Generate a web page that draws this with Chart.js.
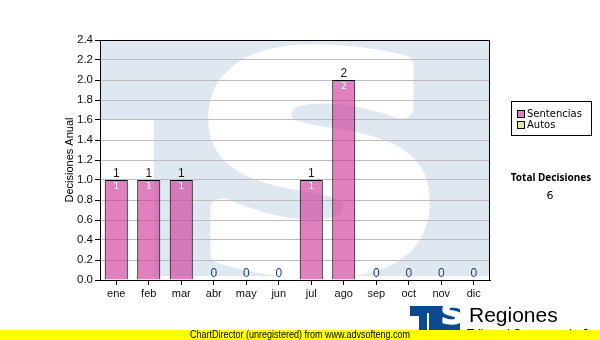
<!DOCTYPE html>
<html>
<head>
<meta charset="utf-8">
<script src="https://cdn.jsdelivr.net/npm/chart.js@4.4.1/dist/chart.umd.min.js"></script>
<style>
  html, body { margin: 0; padding: 0; background: #fff; }
  #wrap { width: 600px; height: 340px; position: relative; }
</style>
</head>
<body>
<div id="wrap"><canvas id="c" width="600" height="340"></canvas></div>
<script>
const categories = ['ene','feb','mar','abr','may','jun','jul','ago','sep','oct','nov','dic'];
const sentencias = [1,1,1,0,0,0,1,2,0,0,0,0];
const autos = [0,0,0,0,0,0,0,0,0,0,0,0];
const seriesNames = ['Sentencias','Autos'];
const yTicks = [0,0.2,0.4,0.6,0.8,1.0,1.2,1.4,1.6,1.8,2.0,2.2,2.4];
const totalLabel = 'Total Decisiones';
const axisTitle = 'Decisiones Anual';

const FONT = '"Liberation Sans", Arial, sans-serif';
const LFONT = '"DejaVu Sans", Verdana, sans-serif';

function drawFittedS(ctx, font, bx, by, bw, bh, strokeW, color) {
  ctx.save();
  ctx.font = font;
  ctx.fillStyle = color;
  const m = ctx.measureText('S');
  const gl = -m.actualBoundingBoxLeft; // glyph left relative to origin
  const gw = m.actualBoundingBoxRight - gl;
  const w = gw + strokeW;
  const h = m.actualBoundingBoxAscent + m.actualBoundingBoxDescent + strokeW;
  ctx.translate(bx, by);
  ctx.scale(bw / w, bh / h);
  ctx.textBaseline = 'alphabetic';
  ctx.textAlign = 'left';
  const ox = -gl + strokeW / 2, oy = m.actualBoundingBoxAscent + strokeW / 2;
  ctx.fillText('S', ox, oy);
  if (strokeW > 0) {
    ctx.lineWidth = strokeW; ctx.lineJoin = 'round'; ctx.strokeStyle = color;
    ctx.strokeText('S', ox, oy);
  }
  ctx.restore();
}

const watermark = {
  id: 'watermark',
  beforeDraw(chart) {
    const ctx = chart.ctx, a = chart.chartArea;
    ctx.save();
    ctx.beginPath(); ctx.rect(a.left, a.top, a.right - a.left, a.bottom - a.top); ctx.clip();
    ctx.fillStyle = '#dfe8f1';
    ctx.fillRect(a.left, a.top, a.right - a.left, 236);
    ctx.fillStyle = '#ffffff';
    ctx.fillRect(a.left, a.top + 80, 54, a.bottom - a.top);
    drawFittedS(ctx, 'bold 300px "DejaVu Sans"', a.left + 105, a.top + 2, 228, 237, 22, '#ffffff');
    ctx.restore();
  }
};

const extras = {
  id: 'extras',
  afterDatasetsDraw(chart) {
    const ctx = chart.ctx, a = chart.chartArea;
    const y = chart.scales.y;
    ctx.save();
    ctx.strokeStyle = '#000'; ctx.lineWidth = 1;
    ctx.strokeRect(a.left + 0.5, a.top + 0.5, a.right - a.left - 1, a.bottom - a.top);
    const meta0 = chart.getDatasetMeta(0);
    ctx.textAlign = 'center';
    categories.forEach((c, i) => {
      const total = sentencias[i] + autos[i];
      const x = meta0.data[i].x;
      const top = y.getPixelForValue(total);
      ctx.font = '12px ' + FONT;
      ctx.fillStyle = total === 0 ? '#1d3f70' : '#1a1a1a';
      ctx.textBaseline = 'bottom';
      ctx.fillText(String(total), x, top);
      if (sentencias[i] > 0) {
        ctx.font = '9px ' + LFONT;
        ctx.fillStyle = '#ffffff';
        ctx.textBaseline = 'middle';
        ctx.fillText(String(sentencias[i]), x, y.getPixelForValue(sentencias[i]) + 7);
      }
    });
    ctx.restore();
  },
  afterDraw(chart) {
    const ctx = chart.ctx;
    const ds = chart.data.datasets;
    ctx.save();
    // legend box
    ctx.strokeStyle = '#000'; ctx.lineWidth = 1;
    ctx.strokeRect(511.5, 101.5, 80, 34);
    ctx.font = '10px ' + LFONT;
    ctx.textBaseline = 'middle'; ctx.textAlign = 'left';
    ds.forEach((d, i) => {
      const yy = 114 + i * 11;
      ctx.fillStyle = d.legendColor;
      ctx.fillRect(517, yy - 4, 7, 7);
      ctx.strokeStyle = '#000';
      ctx.strokeRect(517.5, yy - 3.5, 7, 7);
      ctx.fillStyle = '#000';
      ctx.fillText(d.label, 527, yy);
    });
    // total
    const total = sentencias.reduce((s, v) => s + v, 0) + autos.reduce((s, v) => s + v, 0);
    ctx.textAlign = 'center';
    ctx.font = 'bold 10px "Noto Sans", ' + FONT;
    ctx.fillText(totalLabel, 551, 178);
    ctx.font = '11px ' + LFONT;
    ctx.fillText(String(total), 550, 196);
    // bottom logo
    ctx.fillStyle = '#0b4a8c';
    ctx.fillRect(410, 306, 50, 26);
    ctx.fillStyle = '#fff';
    ctx.fillRect(410, 316, 9, 20);
    ctx.fillRect(427, 313, 2, 20);
    drawFittedS(ctx, 'bold 40px "DejaVu Sans"', 430, 309, 21, 24, 2, '#ffffff');
    ctx.fillStyle = '#000';
    ctx.textAlign = 'left'; ctx.textBaseline = 'alphabetic';
    ctx.font = '21px ' + FONT;
    ctx.fillText('Regiones', 469, 322);
    ctx.font = '12px ' + FONT;
    ctx.fillText('Tribunal Supremo de Justicia', 467, 338);
    // yellow band
    ctx.fillStyle = '#ffff00';
    ctx.fillRect(0, 330, 600, 10);
    ctx.fillStyle = '#000';
    ctx.font = '10px ' + FONT;
    ctx.textBaseline = 'middle';
    const wm = 'ChartDirector (unregistered) from www.advsofteng.com';
    const mw = ctx.measureText(wm).width;
    ctx.translate(190, 335.5);
    ctx.scale(220 / mw, 1);
    ctx.fillText(wm, 0, 0);
    ctx.restore();
  }
};

new Chart(document.getElementById('c'), {
  type: 'bar',
  data: {
    labels: categories,
    datasets: [
      { label: seriesNames[0], data: sentencias, backgroundColor: 'rgba(208,63,155,0.66)', legendColor: '#e07fbd',
        borderColor: '#000', borderWidth: 1, borderSkipped: 'bottom' },
      { label: seriesNames[1], data: autos, backgroundColor: 'rgba(200,230,140,0.8)', legendColor: '#d8eca0',
        borderColor: '#000', borderWidth: 0 }
    ]
  },
  options: {
    responsive: false,
    animation: false,
    events: [],
    layout: { padding: { left: 60, top: 40, right: 110, bottom: 0 } },
    plugins: { legend: { display: false }, tooltip: { enabled: false } },
    datasets: { bar: { barPercentage: 0.71, categoryPercentage: 1 } },
    scales: {
      x: {
        stacked: true,
        afterFit(s) { s.height = 60; },
        grid: { drawOnChartArea: false, tickLength: 5, tickColor: '#000', offset: false },
        border: { color: '#000' },
        ticks: { color: '#111', font: { family: FONT, size: 11 }, padding: 2, maxRotation: 0 }
      },
      y: {
        stacked: true,
        min: 0, max: 2.4,
        afterFit(s) { s.width = 40; },
        afterBuildTicks(s) { s.ticks = yTicks.map(v => ({ value: v })); },
        grid: { color: '#bdbdbd', tickLength: 5, tickColor: '#000' },
        border: { color: '#000' },
        ticks: { color: '#111', font: { family: FONT, size: 11.5 }, padding: 2,
                 callback: v => Number(v).toFixed(1) },
        title: { display: true, text: axisTitle, color: '#000', font: { family: FONT, size: 11 }, padding: { top: 3, bottom: 0 } }
      }
    }
  },
  plugins: [watermark, extras]
});
</script>
</body>
</html>
